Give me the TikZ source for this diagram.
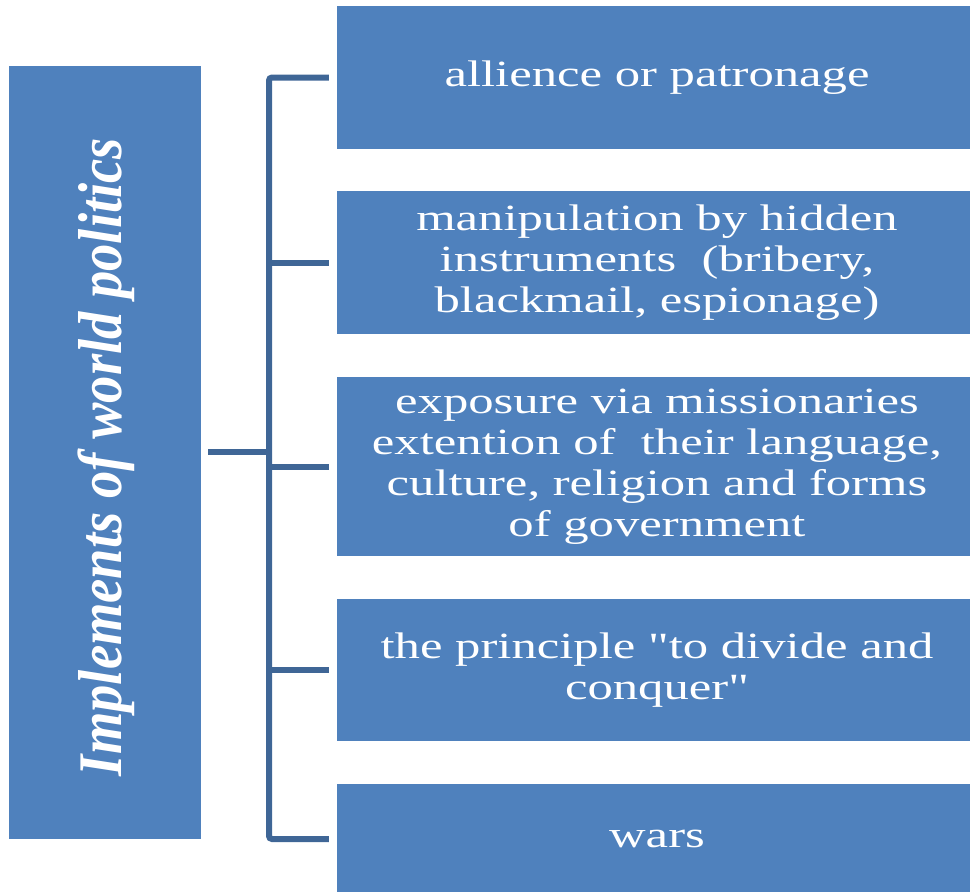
\documentclass[tikz,border=0pt]{standalone}
\usepackage{fontspec}
\setmainfont{Liberation Serif}
\newfontfamily\fontblocco[FakeStretch=1.37]{Liberation Serif}
\newfontfamily\fonttitolo[FakeStretch=0.88]{Liberation Serif}

\definecolor{blublocco}{HTML}{4F81BD}
\definecolor{bluramo}{HTML}{3F6696}

\begin{document}
\begin{tikzpicture}[x=1pt,y=-1pt,
    blocco/.style={fill=blublocco, inner sep=0pt, minimum width=640, text=white,
        align=center, font=\fontblocco\fontsize{37}{41}\selectfont},
    ramo/.style={draw=bluramo, line width=6pt}]
        % Dimensioni
        \def\xb{657}   % centro dei blocchi
        \def\xl{269}   % linea verticale

        \useasboundingbox (0,0) rectangle (970,892);

        % Blocco a sinistra
        \node[fill=blublocco, minimum width=192, minimum height=773] (titolo) at (105,452) {};
        \node[rotate=90, text=white, font=\fonttitolo\bfseries\itshape\fontsize{62}{70}\selectfont]
            (testotitolo) at (106,457) {Implements of world politics};

        % Blocchi a destra (dall'alto verso il basso)
        \node[blocco, minimum height=143] (b1) at (\xb,77.5) {allience or patronage};
        \node[blocco, minimum height=143] (b2) at (\xb,262.5)
            {manipulation by hidden\\ instruments\ \ (bribery,\\ blackmail, espionage)};
        \node[blocco, minimum height=179] (b3) at (\xb,466.5)
            {exposure via missionaries\\ extention of\ \ their language,\\ culture, religion and forms\\ of government};
        \node[blocco, minimum height=142] (b4) at (\xb,670)
            {the principle "to divide and\\ conquer"};
        \node[blocco, minimum height=110] (b5) at (\xb,839) {wars};

        % Collegamenti
        \coordinate (snodo) at (\xl,452);
        \draw[ramo, shorten <=7pt] (titolo.east) -- (snodo);
        \draw[ramo, rounded corners=3pt, shorten <=8pt, shorten >=8pt] (b1.west) -| (snodo) |- (b5.west);
        \foreach \b in {b2,b3,b4}
            \draw[ramo, shorten <=8pt] (\b.west) -- (\b.west -| snodo);

    \end{tikzpicture}
\end{document}
